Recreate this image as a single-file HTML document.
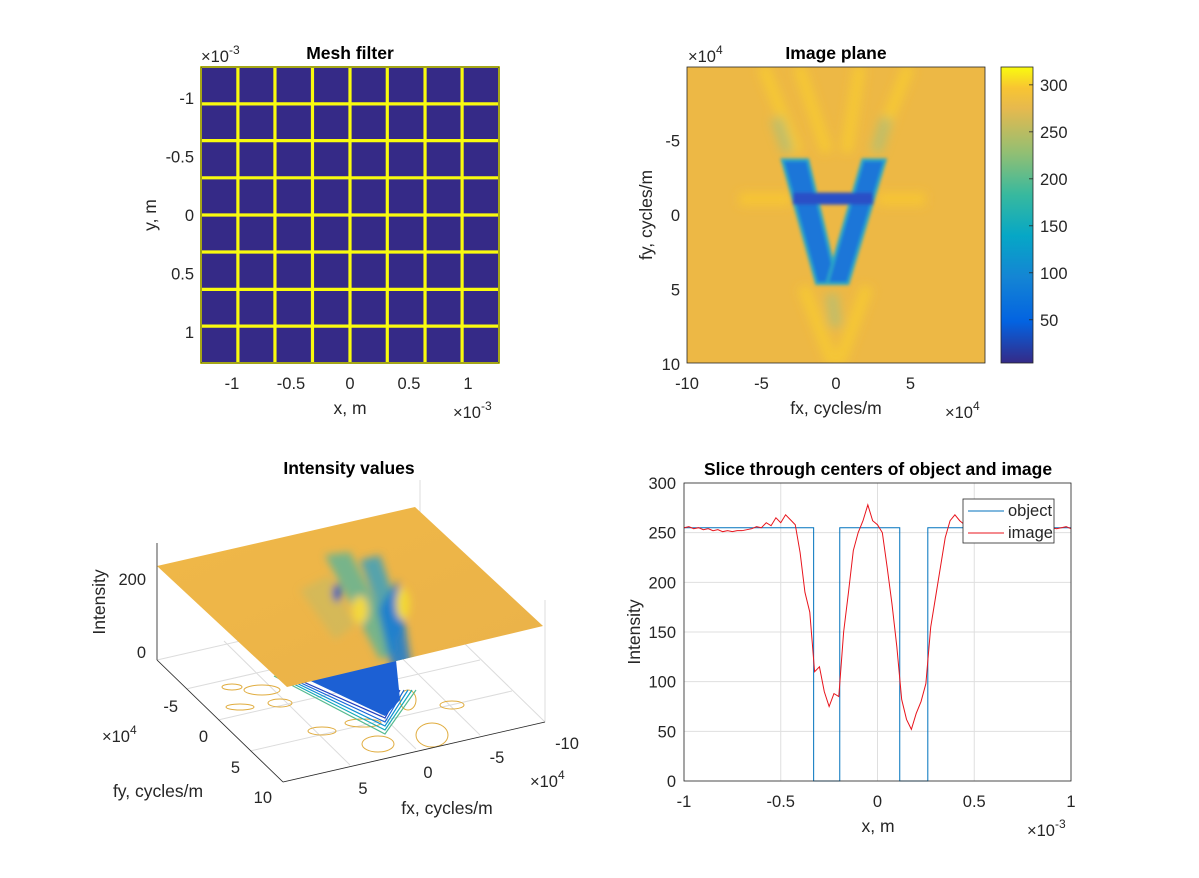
<!DOCTYPE html>
<html><head><meta charset="utf-8"><title>Mesh filter figure</title>
<style>
html,body{margin:0;padding:0;background:#fff;}
svg{display:block;font-family:"Liberation Sans",sans-serif;}
text{fill:#262626;font-size:16.5px;}
.t{font-weight:bold;fill:#000;font-size:17.5px;}
.lab{font-size:17.5px;}
</style></head>
<body>
<svg id="fig" width="1199" height="878" viewBox="0 0 1199 878">
<defs>
<linearGradient id="parula" x1="0" y1="1" x2="0" y2="0">
<stop offset="0" stop-color="#352a87"/><stop offset="0.14" stop-color="#0363e1"/>
<stop offset="0.29" stop-color="#1485d4"/><stop offset="0.43" stop-color="#06a7c6"/>
<stop offset="0.57" stop-color="#38b99e"/><stop offset="0.71" stop-color="#92bf73"/>
<stop offset="0.86" stop-color="#e6b94e"/><stop offset="0.93" stop-color="#f8c532"/><stop offset="1" stop-color="#f9fb0e"/>
</linearGradient>
<filter id="blur3"><feGaussianBlur stdDeviation="5"/></filter>
<filter id="blur1"><feGaussianBlur stdDeviation="1.5"/></filter>
<filter id="blur4"><feGaussianBlur stdDeviation="4"/></filter>
<clipPath id="ipclip"><rect x="687" y="67" width="298" height="296"/></clipPath>
<clipPath id="planeclip"><polygon points="157,566 415,507 543,626 287,687"/></clipPath>
<linearGradient id="plane" x1="0" y1="0" x2="1" y2="1">
<stop offset="0" stop-color="#f0b848"/><stop offset="0.5" stop-color="#edb548"/><stop offset="1" stop-color="#eab24a"/>
</linearGradient>
</defs>
<rect width="1199" height="878" fill="#fff"/>
<g id="mesh"></g>
<g id="ip"></g>
<g id="i3"></g>
<g id="sl"></g>
</svg>
<script>
// ---------- data ----------
const meshLines = [-0.95, -0.636, -0.318, 0, 0.316, 0.636, 0.95];
const meshTicks = [-1, -0.5, 0, 0.5, 1];
const meshTickLabels = ["-1", "-0.5", "0", "0.5", "1"];
const ipXTicks = [-10, -5, 0, 5];
const ipYTicks = [-5, 0, 5, 10];
const cbTicks = [50, 100, 150, 200, 250, 300];
const vLeftArm = [[-3.6, -3.7], [-1.9, -3.7], [0.1, 4.6], [-1.3, 4.6]];
const vRightArm = [[1.8, -3.7], [3.3, -3.7], [0.8, 4.6], [-0.6, 4.6]];
const crossbar = [[-2.9, -1.5], [2.5, -1.5], [2.5, -0.7], [-2.9, -0.7]];
const sliceXTicks = [-1, -0.5, 0, 0.5, 1];
const sliceXLabels = ["-1", "-0.5", "0", "0.5", "1"];
const sliceYTicks = [0, 50, 100, 150, 200, 250, 300];
const objX = [-1, -0.33, -0.33, -0.195, -0.195, 0.115, 0.115, 0.26, 0.26, 1];
const objY = [255, 255, 0, 0, 255, 255, 0, 0, 255, 255];
const imgStart = -1, imgStep = 0.025;
const imgY = [255,256,254,255,253,254,252,253,251,252,251,252,252,253,254,256,255,260,257,265,260,268,263,258,
230,190,170,110,115,90,75,88,85,150,190,232,250,262,278,262,258,250,215,178,135,82,62,52,68,80,98,155,185,215,245,262,268,262,258,257,255,
255,256,254,255,253,255,256,254,255,254,256,255,254,255,253,255,254,255,256,254];

const NS = "http://www.w3.org/2000/svg";
function mk(parent, tag, attrs, txt){
  const e = document.createElementNS(NS, tag);
  for (const k in attrs) e.setAttribute(k, attrs[k]);
  if (txt !== undefined) e.textContent = txt;
  parent.appendChild(e); return e;
}
function sup(parent, x, y, base, exp, anchor){
  const t = mk(parent, "text", {x:x, y:y, "text-anchor":anchor||"start"});
  
  
  mk(t, "tspan", {}, base);
  mk(t, "tspan", {dy:-8, "font-size":"12px"}, exp);
  return t;
}

// ---------- Mesh filter ----------
(function(){
  const g = document.getElementById("mesh");
  const L=201, R=499, T=67, B=363, cx=350, cy=215, sx=118, sy=117;
  const X = v => cx + v*sx, Y = v => cy + v*sy;
  const bg = mk(g, "rect", {x:L, y:T, width:R-L, height:B-T, fill:"#352a87", stroke:"#f9fb0e", "stroke-width":2});
  
  
  meshLines.forEach(v => {
    const l = mk(g, "line", {x1:X(v), x2:X(v), y1:T, y2:B, stroke:"#f9fb0e", "stroke-width":3.2});
    
    
    const h = mk(g, "line", {x1:L, x2:R, y1:Y(v), y2:Y(v), stroke:"#f9fb0e", "stroke-width":3.2});
    
    
  });
  mk(g, "rect", {x:L, y:T, width:R-L, height:B-T, fill:"none", stroke:"#262626", "stroke-width":0.8});
  meshTicks.forEach((v,i) => {
    const t = mk(g, "text", {x:X(v), y:389, "text-anchor":"middle"}, meshTickLabels[i]);
    
    
    const u = mk(g, "text", {x:194, y:Y(v)+6, "text-anchor":"end"}, meshTickLabels[i]);
    
    
  });
  const tt = mk(g, "text", {x:350, y:59, "text-anchor":"middle", class:"t"}, "Mesh filter");
  
  
  const xl = mk(g, "text", {x:350, y:414, "text-anchor":"middle", class:"lab"}, "x, m");
  
  
  const yl = mk(g, "text", {x:0, y:0, "text-anchor":"middle", class:"lab", transform:"translate(156,215) rotate(-90)"}, "y, m");
  
  
  sup(g, 201, 62, "\u00d710", "-3");
  sup(g, 453, 418, "\u00d710", "-3");
})();

// ---------- Image plane ----------
(function(){
  const g = document.getElementById("ip");
  const L=687, R=985, T=67, B=363, cx=836, cy=215, s=14.9;
  const X = v => cx + v*s, Y = v => cy + v*s;
  const pts = a => a.map(p => X(p[0])+","+Y(p[1])).join(" ");
  const c = mk(g, "g", {"clip-path":"url(#ipclip)"});
  const bg = mk(c, "rect", {x:L, y:T, width:R-L, height:B-T, fill:"#edb845"});
  
  
  const hl = mk(c, "g", {filter:"url(#blur3)", opacity:0.85});
  [[[-4.9,-10],[-2.6,-4.2]],[[-2.5,-10],[-0.6,-4.2]],[[4.9,-10],[2.6,-4.2]],[[1.6,-10],[0.7,-4.2]],
   [[-2.2,4.8],[-0.2,10]],[[2.1,4.8],[0.2,10]]].forEach(s2 => {
    const l = mk(hl, "line", {x1:X(s2[0][0]), y1:Y(s2[0][1]), x2:X(s2[1][0]), y2:Y(s2[1][1]), stroke:"#f7cb33", "stroke-width":12});
    
    
  });
  mk(hl, "line", {x1:X(-4.0), y1:Y(-6.5), x2:X(-3.2), y2:Y(-4.2), stroke:"#b6c070", "stroke-width":12});
  mk(hl, "line", {x1:X(3.4), y1:Y(-6.5), x2:X(2.7), y2:Y(-4.2), stroke:"#b6c070", "stroke-width":12});
  mk(hl, "rect", {x:X(-6.5), y:Y(-1.5), width:X(-3)-X(-6.5), height:13, fill:"#f8c832"});
  mk(hl, "rect", {x:X(2.8), y:Y(-1.5), width:X(6)-X(2.8), height:13, fill:"#f8c832"});
  mk(hl, "line", {x1:X(-0.3), y1:Y(5.3), x2:X(0), y2:Y(7.5), stroke:"#b8bf72", "stroke-width":12});
  const vg = mk(c, "g", {filter:"url(#blur1)"});
  [vLeftArm, vRightArm].forEach(a => {
    const p = mk(vg, "polygon", {points:pts(a), fill:"#1e76d8", stroke:"#2aa7c6", "stroke-width":3});
    
    
  });
  const cb = mk(vg, "polygon", {points:pts(crossbar), fill:"#2a4fc6"});
  
  
  mk(g, "rect", {x:L, y:T, width:R-L, height:B-T, fill:"none", stroke:"#262626", "stroke-width":0.8});
  ipXTicks.forEach(v => {
    const t = mk(g, "text", {x:X(v), y:389, "text-anchor":"middle"}, String(v));
    
    
  });
  ipYTicks.forEach(v => {
    const t = mk(g, "text", {x:680, y:Y(v)+6, "text-anchor":"end"}, String(v));
    
    
  });
  const tt = mk(g, "text", {x:836, y:59, "text-anchor":"middle", class:"t"}, "Image plane");
  
  
  const xl = mk(g, "text", {x:836, y:414, "text-anchor":"middle", class:"lab"}, "fx, cycles/m");
  
  
  const yl = mk(g, "text", {x:0, y:0, "text-anchor":"middle", class:"lab", transform:"translate(652,215) rotate(-90)"}, "fy, cycles/m");
  
  
  sup(g, 688, 62, "\u00d710", "4");
  sup(g, 945, 418, "\u00d710", "4");
  // colorbar
  const CL=1001, CR=1033, vmin=4, vmax=319;
  const CY = v => B - (v - vmin)/(vmax - vmin)*(B - T);
  const bar = mk(g, "rect", {x:CL, y:T, width:CR-CL, height:B-T, fill:"url(#parula)", stroke:"#262626", "stroke-width":0.8});
  
  
  cbTicks.forEach(v => {
    mk(g, "line", {x1:CR-4, x2:CR, y1:CY(v), y2:CY(v), stroke:"#262626", "stroke-width":0.8});
    const t = mk(g, "text", {x:1040, y:CY(v)+6}, String(v));
    
    
  });
})();

// ---------- 3D intensity ----------
(function(){
  const g = document.getElementById("i3");
  const grid = "#dcdcdc";
  [[157,660,283,782],[283,782,545,722],[157,660,420,600],[420,600,545,722],
   [420,480,420,600],[545,600,545,722],[157,543,157,660]].forEach(a=>{
    const l = mk(g, "line", {x1:a[0], y1:a[1], x2:a[2], y2:a[3], stroke:grid, "stroke-width":1});
    
    
  });
  [[186,689,450,629],[218,720,480,660],[250,751,512,691],[350,765,224,641],[416,749,290,625],[480,735,354,611]].forEach(a=>{
    mk(g, "line", {x1:a[0], y1:a[1], x2:a[2], y2:a[3], stroke:grid, "stroke-width":1});
  });
  const cg = mk(g, "g", {fill:"none", stroke:"#e0ac3e", "stroke-width":1});
  [[232,687,10,3],[262,690,18,5],[322,731,14,4],[378,744,16,8],[432,735,16,12],[452,705,12,4],[363,723,18,4],[280,703,12,4],[408,700,8,10],[240,707,14,3]].forEach(e=>{
    const el = mk(cg, "ellipse", {cx:e[0], cy:e[1], rx:e[2], ry:e[3]});
    
    
  });
  const bc = mk(g, "g", {fill:"none", "stroke-width":1.2});
  [["#1f3fbf",0],["#1565d9",4],["#0e8ed2",8],["#14aab8",12],["#55ba90",16]].forEach((c,i)=>{
    const k=c[1];
    const p = mk(bc, "polyline", {points:`${290-k},${676} ${385},${718+k} ${400+k},${690}`, stroke:c[0]});
    
    
  });
  const blue = mk(g, "polygon", {points:"300,676 330,660 395,650 400,700 385,716", fill:"#1c60d4"});
  
  
  const plane = mk(g, "polygon", {points:"157,566 415,507 543,626 287,687", fill:"url(#plane)"});
  
  
  const trc = mk(g, "g", {"clip-path":"url(#planeclip)"});
  const tr = mk(trc, "g", {filter:"url(#blur4)"});
  mk(tr, "polygon", {points:"325,555 350,552 400,650 380,660", fill:"#4fb4a0", opacity:0.75});
  mk(tr, "polygon", {points:"360,560 380,555 405,630 392,645", fill:"#2e9fc4", opacity:0.8});
  mk(tr, "polygon", {points:"378,610 398,580 412,670 392,670", fill:"#1a7ad2", opacity:0.85});
  mk(tr, "polygon", {points:"300,590 330,575 355,625 335,640", fill:"#c5bb62", opacity:0.6});
  mk(tr, "ellipse", {cx:337, cy:593, rx:4, ry:9, fill:"#1f4fc8"});
  mk(tr, "ellipse", {cx:360, cy:610, rx:8, ry:14, fill:"#f3d83c"});
  mk(tr, "ellipse", {cx:403, cy:604, rx:7, ry:16, fill:"#f2d834"});
  mk(g, "line", {x1:157, y1:543, x2:157, y2:660, stroke:"#262626", "stroke-width":0.8});
  mk(g, "line", {x1:157, y1:660, x2:283, y2:782, stroke:"#262626", "stroke-width":0.8});
  mk(g, "line", {x1:283, y1:782, x2:545, y2:722, stroke:"#262626", "stroke-width":0.8});
  const labs = [["200",146,585,"end"],["0",146,658,"end"],["-5",178,712,"end"],["0",208,742,"end"],["5",240,773,"end"],["10",272,803,"end"],
    ["5",363,794,"middle"],["0",428,778,"middle"],["-5",497,763,"middle"],["-10",567,749,"middle"]];
  labs.forEach(a=>{
    const t = mk(g, "text", {x:a[1], y:a[2], "text-anchor":a[3]}, a[0]);
    
    
  });
  sup(g, 102, 742, "\u00d710", "4");
  sup(g, 530, 787, "\u00d710", "4");
  const tt = mk(g, "text", {x:349, y:474, "text-anchor":"middle", class:"t"}, "Intensity values");
  
  
  const fy = mk(g, "text", {x:158, y:797, "text-anchor":"middle", class:"lab"}, "fy, cycles/m");
  
  
  const fx = mk(g, "text", {x:447, y:814, "text-anchor":"middle", class:"lab"}, "fx, cycles/m");
  
  
  const zl = mk(g, "text", {x:0, y:0, "text-anchor":"middle", class:"lab", transform:"translate(105,602) rotate(-90)"}, "Intensity");
  
  
})();

// ---------- Slice ----------
(function(){
  const g = document.getElementById("sl");
  const L=684, R=1071, T=483, B=781;
  const X = v => L + (v+1)/2*(R-L), Y = v => B - v/300*(B-T);
  mk(g, "rect", {x:L, y:T, width:R-L, height:B-T, fill:"#fff"});
  sliceXTicks.forEach((v,i)=>{
    const l = mk(g, "line", {x1:X(v), x2:X(v), y1:T, y2:B, stroke:"#dfdfdf", "stroke-width":1});
    
    
    const t = mk(g, "text", {x:X(v), y:807, "text-anchor":"middle"}, sliceXLabels[i]);
    
    
  });
  sliceYTicks.forEach(v=>{
    const l = mk(g, "line", {x1:L, x2:R, y1:Y(v), y2:Y(v), stroke:"#dfdfdf", "stroke-width":1});
    
    
    const t = mk(g, "text", {x:676, y:Y(v)+6, "text-anchor":"end"}, String(v));
    
    
  });
  const op = mk(g, "polyline", {points:objX.map((x,i)=>X(x)+","+Y(objY[i])).join(" "), fill:"none", stroke:"#0072bd", "stroke-width":1});
  
  
  const ip = mk(g, "polyline", {points:imgY.map((y,i)=>X(imgStart+i*imgStep)+","+Y(y)).join(" "), fill:"none", stroke:"#e8141c", "stroke-width":1});
  
  
  mk(g, "rect", {x:L, y:T, width:R-L, height:B-T, fill:"none", stroke:"#262626", "stroke-width":0.8});
  const lg = mk(g, "g", {});
  
  
  mk(lg, "rect", {x:963, y:499, width:91, height:44, fill:"#fff", stroke:"#262626", "stroke-width":0.8});
  mk(lg, "line", {x1:968, x2:1004, y1:511, y2:511, stroke:"#0072bd"});
  mk(lg, "line", {x1:968, x2:1004, y1:533, y2:533, stroke:"#e8141c"});
  const e1 = mk(lg, "text", {x:1008, y:516, "font-size":"14px"}, "object");
  
  
  const e2 = mk(lg, "text", {x:1008, y:538, "font-size":"14px"}, "image");
  
  
  const tt = mk(g, "text", {x:878, y:475, "text-anchor":"middle", class:"t"}, "Slice through centers of object and image");
  
  
  const xl = mk(g, "text", {x:878, y:832, "text-anchor":"middle", class:"lab"}, "x, m");
  
  
  const yl = mk(g, "text", {x:0, y:0, "text-anchor":"middle", class:"lab", transform:"translate(640,632) rotate(-90)"}, "Intensity");
  
  
  sup(g, 1027, 836, "\u00d710", "-3");
})();
</script>
</body></html>
